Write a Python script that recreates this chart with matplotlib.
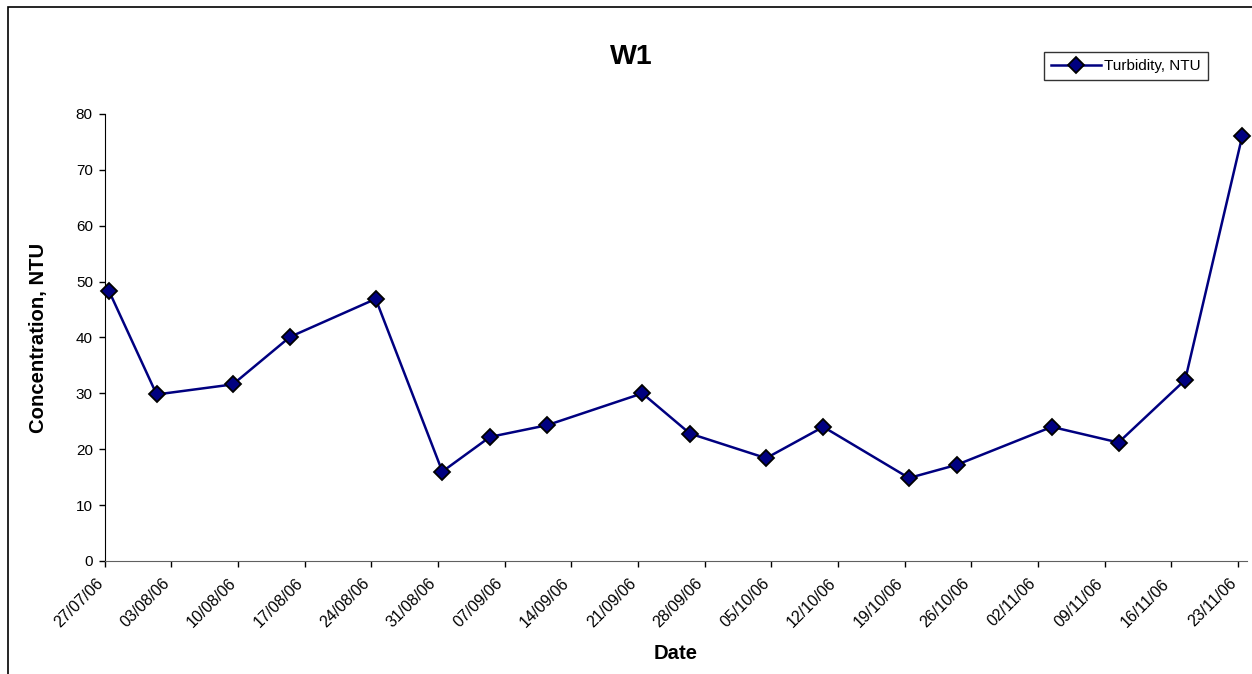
import matplotlib
matplotlib.use("Agg")
import matplotlib.pyplot as plt
import matplotlib.dates as mdates
import matplotlib.transforms as mtransforms
from matplotlib.patches import Rectangle
import pandas as pd

plt.rcParams['font.family'] = ['Liberation Sans', 'DejaVu Sans']

# sampling dates (taken late morning) and turbidity readings
sample_dates = ['2006-07-27', '2006-08-01', '2006-08-09', '2006-08-15', '2006-08-24',
                '2006-08-31', '2006-09-05', '2006-09-11', '2006-09-21', '2006-09-26',
                '2006-10-04', '2006-10-10', '2006-10-19', '2006-10-24', '2006-11-03',
                '2006-11-10', '2006-11-17', '2006-11-23']
turbidity = [48.3, 29.8, 31.6, 40.1, 46.9, 16.0, 22.2, 24.3, 30.0, 22.8,
             18.4, 24.0, 14.85, 17.2, 24.0, 21.2, 32.4, 76.1]
y_ticks = [0, 10, 20, 30, 40, 50, 60, 70, 80]

x = pd.to_datetime(sample_dates) + pd.Timedelta(hours=11)
week_ticks = pd.date_range('2006-07-27', '2006-11-23', freq='7D')

fig = plt.figure(figsize=(12.52, 6.74), dpi=100)
ax = fig.add_axes([0.0836, 0.1677, 0.9124, 0.6632])

ax.plot(x, turbidity, color='#000080', lw=1.8, marker='D', ms=8.5,
        mfc='#000080', mec='black', mew=1.3, label='Turbidity, NTU', clip_on=False, zorder=3)

ax.set_ylim(0, 80)
ax.set_yticks(y_ticks)
ax.set_xlim(pd.Timestamp('2006-07-27'), pd.Timestamp('2006-07-27') + pd.Timedelta(days=119.95))
ax.set_xticks(week_ticks)
ax.xaxis.set_major_formatter(mdates.DateFormatter('%d/%m/%y'))

for side in ['top', 'right']:
    ax.spines[side].set_visible(False)
ax.spines['left'].set_color('black')
ax.spines['bottom'].set_color('#606060')
ax.tick_params(axis='both', direction='out', length=4.5, width=1, colors='black')
ax.tick_params(axis='y', pad=4, labelsize=11)
ax.tick_params(axis='x', pad=12, labelsize=11.5)
shift = mtransforms.ScaledTranslation(-3 / 72, 2 / 72, fig.dpi_scale_trans)
for lbl in ax.get_xticklabels():
    lbl.set_rotation(45)
    lbl.set_ha('right')
    lbl.set_va('center')
    lbl.set_rotation_mode('anchor')
    lbl.set_transform(lbl.get_transform() + shift)

ax.set_ylabel('Concentration, NTU', fontsize=14.6, fontweight='bold', labelpad=20)
ax.set_xlabel('Date', fontsize=14.6, fontweight='bold')
ax.xaxis.set_label_coords(0.5, -0.186)

fig.text(0.504, 1 - 57 / 674, 'W1', fontsize=20.5, fontweight='bold', ha='center', va='center')

leg = ax.legend(loc='upper left', bbox_to_anchor=(1044 / 1252, 1 - 52 / 674),
                bbox_transform=fig.transFigure, fontsize=11, frameon=True, fancybox=False,
                borderpad=0.45, handlelength=3.3, handletextpad=0.2, borderaxespad=0)
leg.get_frame().set_edgecolor('black')
leg.get_frame().set_linewidth(1)

# outer chart frame
fig.patches.append(Rectangle((8 / 1252, -0.1), 1.2, 1.1 - 7 / 674, transform=fig.transFigure,
                             fill=False, edgecolor='black', lw=1.2))

fig.savefig('out.png', dpi=100)
